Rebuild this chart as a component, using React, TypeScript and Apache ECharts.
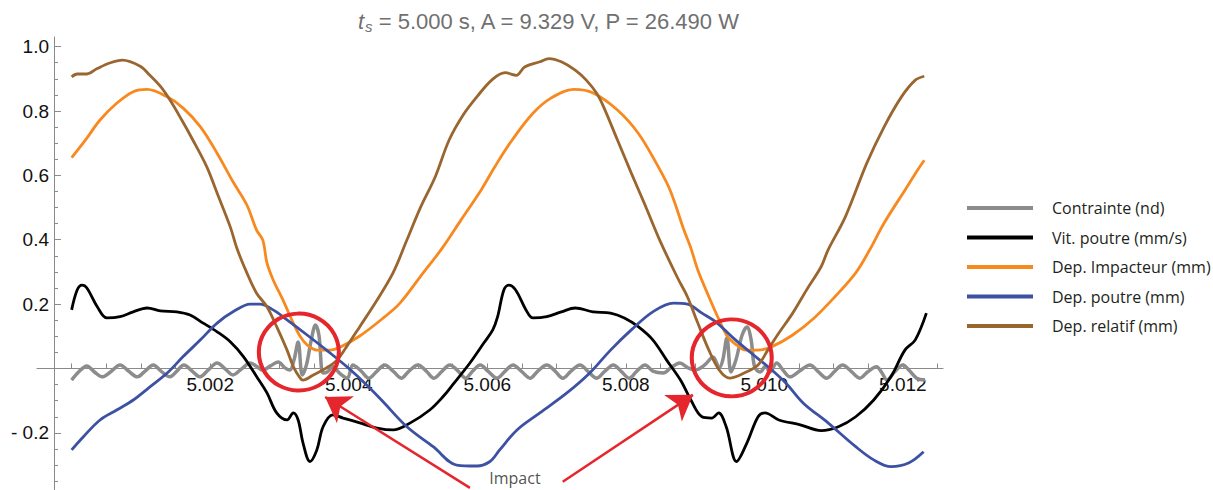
import React, { useEffect, useRef } from 'react';
import * as echarts from 'echarts';

// Reference time of the window (s) ; series times are given in ms after it
const T0 = 5.0;

// [t (ms after T0), value]
const contrainte: [number, number][] = [
  [0.00, -0.036], [0.10, -0.011], [0.22, 0.008], [0.33, -0.011], [0.44, -0.026], [0.56, -0.011],
  [0.70, 0.011], [0.82, -0.008], [0.95, -0.026], [1.06, -0.008], [1.18, 0.011], [1.29, -0.008],
  [1.42, -0.026], [1.52, -0.008], [1.62, 0.011], [1.74, -0.008], [1.85, -0.026], [1.97, -0.005],
  [2.10, 0.017], [2.22, -0.002], [2.33, -0.020], [2.45, -0.002], [2.58, 0.017], [2.68, 0.005],
  [2.76, -0.005], [2.87, 0.008], [2.98, 0.020], [3.08, 0.002], [3.15, -0.005], [3.21, 0.026],
  [3.27, 0.082], [3.33, -0.020], [3.39, 0.011], [3.46, 0.089], [3.52, 0.135], [3.57, 0.104],
  [3.63, -0.014], [3.69, -0.011], [3.77, 0.005], [3.88, -0.017], [3.98, -0.030], [4.06, 0.011],
  [4.18, -0.008], [4.29, -0.030], [4.41, -0.008], [4.52, 0.011], [4.64, -0.008], [4.76, -0.030],
  [4.87, -0.008], [5.00, 0.011], [5.12, -0.008], [5.23, -0.030], [5.35, -0.008], [5.46, 0.011],
  [5.58, -0.008], [5.69, -0.030], [5.79, -0.008], [5.90, 0.011], [6.01, -0.008], [6.14, -0.030],
  [6.26, -0.008], [6.37, 0.011], [6.49, -0.008], [6.62, -0.030], [6.73, -0.008], [6.86, 0.011],
  [6.98, -0.008], [7.09, -0.030], [7.21, -0.008], [7.34, 0.011], [7.45, -0.008], [7.58, -0.030],
  [7.70, -0.008], [7.82, 0.011], [7.93, -0.008], [8.05, -0.030], [8.16, -0.008], [8.28, 0.011],
  [8.39, -0.008], [8.54, -0.014], [8.65, 0.002], [8.78, 0.017], [8.90, 0.002], [9.00, -0.005],
  [9.14, 0.011], [9.26, 0.036], [9.35, 0.002], [9.40, 0.026], [9.46, 0.095], [9.52, -0.011],
  [9.59, 0.026], [9.68, 0.104], [9.75, 0.129], [9.81, 0.089], [9.86, 0.005], [9.94, -0.011],
  [10.02, 0.008], [10.08, -0.011], [10.18, 0.017], [10.27, -0.005], [10.37, -0.026], [10.51, -0.008],
  [10.66, 0.011], [10.77, -0.008], [10.90, -0.030], [11.02, -0.008], [11.13, 0.011], [11.25, -0.008],
  [11.38, -0.030], [11.49, -0.011], [11.62, 0.005], [11.70, -0.014], [11.77, -0.036], [11.88, -0.011],
  [12.00, 0.011], [12.10, -0.008], [12.20, -0.030], [12.32, -0.036],
];

const vitPoutre: [number, number][] = [
  [0.00, 0.182], [0.08, 0.244], [0.15, 0.259], [0.22, 0.250], [0.37, 0.192], [0.51, 0.157],
  [0.70, 0.161], [0.89, 0.176], [1.09, 0.188], [1.28, 0.179], [1.52, 0.176], [1.71, 0.166],
  [1.90, 0.141], [2.10, 0.114], [2.29, 0.083], [2.48, 0.037], [2.67, -0.025], [2.82, -0.076],
  [2.96, -0.138], [3.11, -0.160], [3.20, -0.138], [3.27, -0.160], [3.34, -0.231], [3.44, -0.289],
  [3.54, -0.253], [3.63, -0.181], [3.77, -0.144], [3.92, -0.154], [4.16, -0.169], [4.41, -0.185],
  [4.64, -0.191], [4.89, -0.169], [5.17, -0.129], [5.36, -0.088], [5.50, -0.051], [5.75, 0.017],
  [5.95, 0.079], [6.08, 0.120], [6.15, 0.161], [6.24, 0.244], [6.31, 0.259], [6.41, 0.244],
  [6.56, 0.182], [6.66, 0.157], [6.86, 0.161], [7.07, 0.176], [7.27, 0.188], [7.53, 0.176],
  [7.78, 0.172], [7.98, 0.157], [8.18, 0.130], [8.39, 0.089], [8.59, 0.026], [8.79, -0.036],
  [8.94, -0.098], [9.10, -0.150], [9.24, -0.154], [9.34, -0.138], [9.45, -0.181], [9.60, -0.289],
  [9.75, -0.231], [9.91, -0.150], [10.01, -0.138], [10.21, -0.160], [10.52, -0.175], [10.82, -0.193],
  [11.07, -0.181], [11.32, -0.150], [11.58, -0.098], [11.83, -0.025], [12.03, 0.057], [12.18, 0.089],
  [12.34, 0.172],
];

const depImpacteur: [number, number][] = [
  [0.00, 0.655], [0.22, 0.716], [0.41, 0.772], [0.65, 0.824], [0.89, 0.860], [1.09, 0.867],
  [1.38, 0.844], [1.61, 0.809], [1.86, 0.751], [2.10, 0.669], [2.33, 0.580], [2.53, 0.508],
  [2.67, 0.430], [2.76, 0.399], [2.82, 0.328], [2.91, 0.275], [3.05, 0.213], [3.20, 0.141],
  [3.30, 0.099], [3.40, 0.073], [3.54, 0.057], [3.73, 0.057], [3.88, 0.067], [4.16, 0.101],
  [4.50, 0.157], [4.74, 0.203], [5.04, 0.287], [5.35, 0.374], [5.62, 0.461], [5.91, 0.554],
  [6.11, 0.627], [6.36, 0.710], [6.66, 0.793], [6.92, 0.840], [7.25, 0.867], [7.53, 0.856],
  [7.88, 0.803], [8.18, 0.731], [8.44, 0.638], [8.64, 0.554], [8.84, 0.430], [8.94, 0.374],
  [9.04, 0.306], [9.20, 0.223], [9.35, 0.150], [9.47, 0.099], [9.60, 0.073], [9.73, 0.057],
  [9.91, 0.057], [10.11, 0.068], [10.41, 0.104], [10.72, 0.157], [11.02, 0.223], [11.32, 0.297],
  [11.52, 0.368], [11.73, 0.452], [12.03, 0.554], [12.23, 0.622], [12.31, 0.647],
];

const depPoutre: [number, number][] = [
  [0.00, -0.253], [0.17, -0.212], [0.41, -0.160], [0.65, -0.129], [0.89, -0.098], [1.13, -0.057],
  [1.38, -0.014], [1.61, 0.037], [1.86, 0.089], [2.10, 0.141], [2.33, 0.176], [2.58, 0.200],
  [2.72, 0.200], [2.91, 0.182], [3.11, 0.151], [3.40, 0.104], [3.68, 0.057], [3.97, 0.006],
  [4.26, -0.051], [4.50, -0.104], [4.84, -0.181], [5.22, -0.243], [5.56, -0.300], [5.85, -0.303],
  [6.04, -0.289], [6.18, -0.253], [6.43, -0.191], [6.76, -0.138], [7.15, -0.076], [7.48, -0.014],
  [7.78, 0.057], [8.08, 0.120], [8.39, 0.176], [8.69, 0.203], [8.89, 0.200], [9.10, 0.172],
  [9.30, 0.145], [9.55, 0.095], [9.81, 0.048], [10.05, 0.006], [10.31, -0.045], [10.56, -0.107],
  [10.92, -0.169], [11.32, -0.243], [11.58, -0.284], [11.83, -0.305], [12.09, -0.293], [12.30, -0.259],
];

const depRelatif: [number, number][] = [
  [0.00, 0.906], [0.08, 0.915], [0.22, 0.915], [0.37, 0.932], [0.56, 0.950], [0.73, 0.958],
  [0.99, 0.939], [1.13, 0.911], [1.28, 0.877], [1.42, 0.834], [1.59, 0.772], [1.75, 0.710],
  [1.95, 0.627], [2.10, 0.545], [2.29, 0.440], [2.39, 0.371], [2.53, 0.297], [2.67, 0.234],
  [2.82, 0.192], [2.96, 0.130], [3.11, 0.057], [3.20, 0.006], [3.30, -0.030], [3.34, -0.036],
  [3.49, -0.020], [3.68, 0.002], [3.83, 0.026], [3.97, 0.068], [4.16, 0.130], [4.41, 0.213],
  [4.64, 0.297], [4.84, 0.399], [5.04, 0.502], [5.25, 0.596], [5.45, 0.710], [5.65, 0.787],
  [5.85, 0.844], [6.08, 0.899], [6.26, 0.919], [6.42, 0.911], [6.54, 0.937], [6.76, 0.953],
  [6.89, 0.963], [7.07, 0.953], [7.27, 0.927], [7.43, 0.896], [7.58, 0.855], [7.68, 0.813],
  [7.88, 0.710], [8.08, 0.607], [8.29, 0.502], [8.49, 0.399], [8.74, 0.285], [8.89, 0.223],
  [9.04, 0.141], [9.20, 0.057], [9.35, -0.005], [9.50, -0.030], [9.71, -0.014], [9.91, 0.011],
  [10.05, 0.057], [10.21, 0.110], [10.41, 0.172], [10.61, 0.244], [10.82, 0.316], [10.92, 0.368],
  [11.17, 0.471], [11.48, 0.638], [11.73, 0.751], [11.98, 0.844], [12.18, 0.896], [12.31, 0.908],
];

// annotations (ms after T0, value)
const impactCircles: [number, number][] = [[3.28, 0.051], [9.53, 0.033]];
const impactArrows: [number, number][][] = [
  [[5.75, -0.371], [3.66, -0.0885]],
  [[7.09, -0.352], [8.97, -0.082]],
];
const impactLabel: [number, number] = [6.40, -0.341];

const seriesNames = ['Contrainte (nd)', 'Vit. poutre (mm/s)', 'Dep. Impacteur (mm)', 'Dep. poutre (mm)', 'Dep. relatif (mm)'];
const xLabelValues = [5.002, 5.004, 5.006, 5.008, 5.010, 5.012];
const xTickValues = [
  5.0, 5.0005, 5.001, 5.0015, 5.002, 5.0025, 5.003, 5.0035, 5.004, 5.0045, 5.005, 5.0055, 5.006,
  5.0065, 5.007, 5.0075, 5.008, 5.0085, 5.009, 5.0095, 5.01, 5.0105, 5.011, 5.0115, 5.012, 5.0125,
];
const yLabelValues = [-0.2, 0.2, 0.4, 0.6, 0.8, 1.0];
const yMajorTicks = [-0.2, 0, 0.2, 0.4, 0.6, 0.8, 1.0];
const yMinorTicks = [
  -0.35, -0.3, -0.25, -0.15, -0.1, -0.05, 0.05, 0.1, 0.15, 0.25, 0.3, 0.35, 0.45, 0.5, 0.55,
  0.65, 0.7, 0.75, 0.85, 0.9, 0.95,
];

const X_MIN = 4.9995;
const X_MAX = 5.01258;
const Y_MIN = -0.3776;
const Y_MAX = 1.03;

const toS = (ms: number) => T0 + ms / 1000;
const toPts = (arr: [number, number][]) => arr.map(([ms, v]) => [toS(ms), v]);

const RED = '#e5262c';
const LABEL_FONT = 'Liberation Sans, Arial, sans-serif';
const LEGEND_FONT = 'Open Sans, sans-serif';

const GRID = { left: 37, right: 270, top: 37, bottom: 0 };
const CHART_H = 490;

export default function App() {
  const ref = useRef<HTMLDivElement>(null);
  useEffect(() => {
    if (!ref.current) return;
    const chart = echarts.init(ref.current, undefined, { renderer: 'svg' });
    const plotH = CHART_H - GRID.top - GRID.bottom;
    const zeroY = GRID.top + (Y_MAX / (Y_MAX - Y_MIN)) * plotH;
    const xAxisOffset = zeroY - (CHART_H - GRID.bottom);
    const lineSeries = (name: string, data: [number, number][], color: string, width: number, z: number) => ({
      name,
      type: 'line',
      data: toPts(data),
      color,
      showSymbol: false,
      symbol: 'none',
      smooth: 0.35,
      lineStyle: { color, width },
      z,
      silent: true,
    });
    chart.setOption({
      animation: false,
      title: {
        text: '{i|t}{sub|s}{n| = 5.000 s, A = 9.329 V, P = 26.490 W}',
        left: 353,
        top: 4,
        textStyle: {
          fontWeight: 'normal',
          rich: {
            i: { fontFamily: LABEL_FONT, fontStyle: 'italic', fontWeight: 'normal', fontSize: 22, color: '#707070' },
            sub: { fontFamily: LABEL_FONT, fontStyle: 'italic', fontWeight: 'normal', fontSize: 15, color: '#707070', padding: [10, 0, 0, 1] },
            n: { fontFamily: LABEL_FONT, fontWeight: 'normal', fontSize: 22, color: '#707070' },
          },
        },
      },
      legend: {
        orient: 'vertical',
        left: 967,
        top: 199,
        padding: 0,
        itemWidth: 66,
        itemHeight: 4,
        itemGap: 11.5,
        icon: 'rect',
        data: seriesNames,
        selectedMode: false,
        textStyle: { fontFamily: LEGEND_FONT, fontSize: 16, color: '#231f20', lineHeight: 18, padding: [0, 0, 0, 14] },
      },
      grid: { ...GRID, containLabel: false, outerBoundsMode: 'none' },
      xAxis: [
        {
          type: 'value',
          min: X_MIN,
          max: X_MAX,
          position: 'bottom',
          offset: xAxisOffset,
          axisLine: { show: true, onZero: false, lineStyle: { color: '#8a8a8a', width: 1 } },
          axisTick: { show: true, inside: true, length: 5, customValues: xTickValues, lineStyle: { color: '#8a8a8a' } },
          axisLabel: {
            show: true,
            customValues: xLabelValues,
            formatter: (v: number) => v.toFixed(3),
            color: '#111',
            fontFamily: LABEL_FONT,
            fontSize: 19,
            margin: 7,
          },
          splitLine: { show: false },
        },
      ],
      yAxis: [
        {
          type: 'value',
          min: Y_MIN,
          max: Y_MAX,
          position: 'left',
          offset: -17,
          axisLine: { show: true, onZero: false, lineStyle: { color: '#8a8a8a', width: 1 } },
          axisTick: { show: true, inside: true, length: 7, customValues: yMajorTicks, lineStyle: { color: '#8a8a8a' } },
          axisLabel: {
            show: true,
            customValues: yLabelValues,
            formatter: (v: number) => (v < 0 ? '- ' + Math.abs(v).toFixed(1) : v.toFixed(1)),
            color: '#111',
            fontFamily: LABEL_FONT,
            fontSize: 19,
            margin: 5,
          },
          splitLine: { show: false },
        },
        {
          type: 'value',
          min: Y_MIN,
          max: Y_MAX,
          position: 'left',
          offset: -17,
          axisLine: { show: false, onZero: false },
          axisTick: { show: true, inside: true, length: 4, customValues: yMinorTicks, lineStyle: { color: '#8a8a8a' } },
          axisLabel: { show: false },
          splitLine: { show: false },
        },
      ],
      series: [
        lineSeries(seriesNames[0], contrainte, '#8c8c8c', 3.5, 2),
        lineSeries(seriesNames[1], vitPoutre, '#000000', 2.8, 3),
        lineSeries(seriesNames[2], depImpacteur, '#f7891f', 2.8, 3),
        lineSeries(seriesNames[3], depPoutre, '#3d51a3', 2.8, 3),
        lineSeries(seriesNames[4], depRelatif, '#9a6630', 2.8, 3),
        {
          name: 'impact-circles',
          type: 'scatter',
          data: toPts(impactCircles),
          symbol: 'circle',
          symbolSize: [80, 77],
          itemStyle: { color: 'rgba(0,0,0,0)', borderColor: RED, borderWidth: 4, opacity: 1 },
          z: 6,
          silent: true,
        },
        {
          name: 'impact-arrows',
          type: 'lines',
          coordinateSystem: 'cartesian2d',
          data: impactArrows.map((a) => ({ coords: a.map(([ms, v]) => [toS(ms), v]) })),
          symbol: ['none', 'arrow'],
          symbolSize: 24,
          lineStyle: { color: RED, width: 2.5, opacity: 1, curveness: 0 },
          z: 6,
          silent: true,
        },
        {
          name: 'impact-label',
          type: 'scatter',
          data: [toPts([impactLabel])[0]],
          symbolSize: 0,
          label: {
            show: true,
            position: 'inside',
            formatter: 'Impact',
            fontFamily: LEGEND_FONT,
            fontSize: 16,
            color: '#231f20',
          },
          z: 6,
          silent: true,
        },
      ],
    });
    return () => chart.dispose();
  }, []);
  return <div ref={ref} style={{ position: 'absolute', left: 0, top: 0, width: 1213, height: 490 }} />;
}
